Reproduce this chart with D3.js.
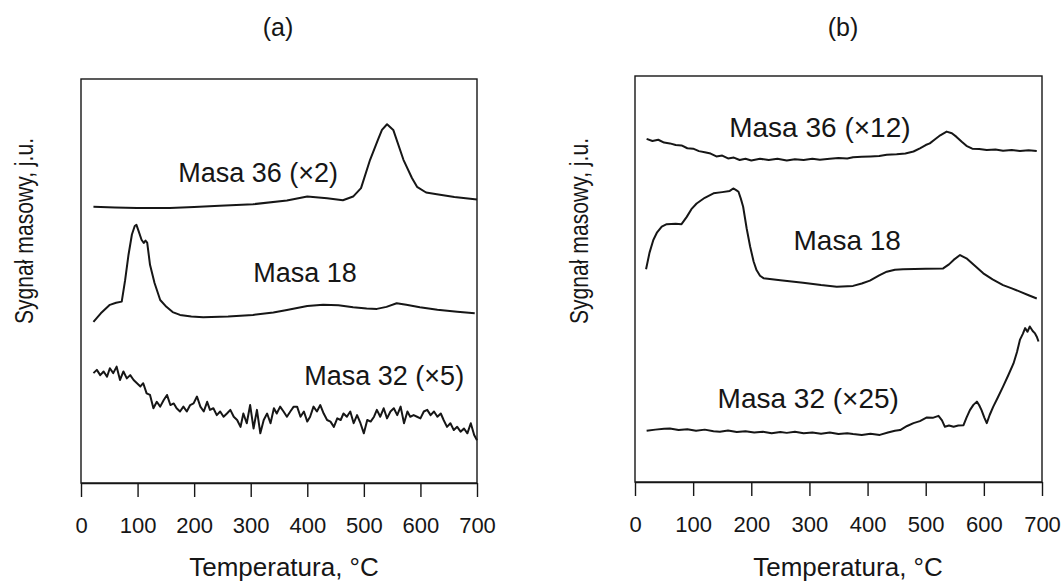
<!DOCTYPE html>
<html><head><meta charset="utf-8">
<script src="https://cdn.jsdelivr.net/npm/d3@7"></script>
<style>
html,body{margin:0;padding:0;background:#fff;}
svg{display:block;font-family:"Liberation Sans",Arial,sans-serif;}
</style></head>
<body>
<svg id="chart" width="1064" height="585"></svg>
<script>
// ---------- data (temperature °C, signal a.u. 0..100 of panel height) ----------
const xTicks = [0,100,200,300,400,500,600,700];
const panelTitles = ["(a)","(b)"];
const xTitle = "Temperatura, °C";
const yTitle = "Sygnał masowy, j.u.";

// panel (a) Masa 36 (x2)
const a36 = [[22,68.4],[60,68.2],[99,68.1],[157,68.1],[200,68.3],[245,68.6],[304,69.0],[364,69.9],[400,70.9],[435,70.5],[463,70.0],[481,70.9],[495,73.0],[511,80.0],[525,85.0],[532,87.4],[541,88.8],[552,87.4],[570,80.0],[585,75.5],[594,73.3],[610,71.9],[629,71.5],[660,70.8],[700,70.2]];
// panel (a) Masa 18
const a18 = [[22,39.9],[35,42.0],[51,44.1],[62,44.6],[72,44.9],[78,50.2],[84,56.5],[90,61.5],[95,63.6],[98,63.9],[102,62.3],[107,60.2],[111,59.4],[114,60.0],[117,59.5],[122,54.0],[130,49.5],[140,45.3],[151,43.6],[162,42.3],[175,41.6],[195,41.2],[216,41.0],[260,41.2],[304,41.6],[340,42.2],[364,42.8],[400,43.8],[428,44.1],[455,44.0],[481,43.5],[505,43.2],[523,43.1],[540,43.6],[558,44.5],[575,44.1],[599,43.5],[630,42.9],[665,42.4],[696,42.0]];
// panel (a) Masa 32 (x5)
const a32T = [22,28,34,40,46,51,57,63,69,75,81,87,93,99,105,110,116,122,128,134,140,146,152,158,164,169,175,181,187,193,199,205,211,217,223,228,234,240,246,252,258,264,270,276,282,287,293,299,305,311,317,323,329,335,341,346,352,358,364,370,376,382,388,394,400,405,411,417,423,429,435,441,447,453,459,464,470,476,482,488,494,500,506,512,518,523,529,535,541,547,553,559,565,571,577,582,588,594,600,606,612,618,624,630,636,641,647,653,659,665,671,677,683,689,695,700];
const a32V = [27.2,28.0,26.7,27.6,26.3,28.4,27.2,28.8,25.5,27.6,25.9,26.7,25.5,24.7,23.9,24.7,22.2,21.8,18.5,20.1,18.9,20.5,21.8,19.3,19.7,18.5,17.7,18.9,17.7,19.3,19.7,21.4,18.9,17.7,20.1,18.1,18.5,16.8,17.7,16.4,17.2,18.1,16.4,15.6,13.9,17.2,14.8,19.3,13.5,18.1,12.3,15.6,17.2,14.8,18.5,17.2,18.9,17.7,16.4,17.7,18.9,18.9,16.4,17.7,15.2,16.4,18.9,17.7,19.3,17.2,15.6,15.2,13.9,16.0,15.6,17.2,16.4,17.7,14.8,16.8,14.8,12.3,15.6,15.2,16.4,18.1,16.4,18.5,16.0,17.7,18.5,16.8,18.9,14.8,17.7,16.4,16.8,16.4,16.0,17.7,18.1,16.8,17.7,16.4,17.2,15.6,13.9,14.8,13.1,13.9,12.7,13.5,12.3,14.8,11.9,10.6];

// panel (b) Masa 36 (x12)
const b36 = [[20,84.5],[30,84.0],[40,84.3],[50,83.6],[60,83.4],[70,83.0],[80,82.9],[90,82.2],[100,82.1],[110,81.5],[120,81.2],[130,80.9],[140,80.2],[150,80.4],[160,79.7],[170,79.9],[180,79.3],[190,79.6],[200,79.2],[215,79.6],[230,79.3],[245,79.6],[261,79.2],[275,79.5],[290,79.3],[305,79.6],[318,79.4],[335,79.6],[350,79.8],[365,79.7],[375,80.0],[390,80.1],[405,80.2],[420,80.3],[433,80.6],[450,80.7],[465,80.9],[479,81.4],[490,82.2],[500,83.0],[507,83.4],[515,84.3],[525,85.4],[536,86.3],[545,85.9],[553,85.0],[562,83.8],[570,82.8],[580,82.1],[592,82.0],[605,81.8],[620,81.9],[633,81.6],[648,81.8],[662,81.5],[677,81.7],[691,81.5]];
// panel (b) Masa 18
const b18 = [[19,52.4],[25,56.5],[31.5,59.6],[38,61.5],[46,62.9],[54.5,63.5],[70,63.6],[80,63.5],[89,65.3],[97,67.2],[106,68.6],[120,70.0],[135,71.1],[150,71.4],[163,71.7],[169,72.3],[174,71.9],[178,71.5],[182,69.8],[186,67.8],[192,62.5],[198,58.0],[204,54.3],[209,52.2],[215,50.8],[221,50.2],[250,49.7],[289,49.1],[320,48.5],[347,48.1],[375,48.3],[390,48.9],[404,49.6],[420,50.9],[433,51.8],[447,52.3],[461,52.4],[500,52.5],[530,52.6],[540,53.6],[548,54.7],[559,55.9],[570,55.1],[585,53.2],[599,51.4],[615,49.9],[633,48.5],[648,47.7],[662,46.9],[677,46.0],[691,45.2]];
// panel (b) Masa 32 (x25)
const b32 = [[20,12.6],[35,12.9],[50,13.1],[60,13.2],[75,12.8],[90,13.0],[105,12.6],[120,12.9],[135,12.5],[146,12.4],[160,12.7],[175,12.3],[190,12.5],[205,12.2],[220,12.4],[235,12.0],[250,12.3],[261,12.1],[275,12.4],[290,12.0],[305,12.2],[320,11.9],[335,12.2],[350,11.8],[365,12.0],[375,11.8],[390,11.6],[405,11.9],[421,11.6],[435,12.2],[447,12.6],[456,12.8],[468,13.8],[479,14.5],[490,15.0],[502,15.9],[512,15.8],[522,16.3],[528,15.2],[533,13.6],[540,13.9],[548,13.6],[556,13.9],[565,14.0],[570,15.8],[576,17.7],[582,19.0],[588,19.8],[592,18.9],[596,17.7],[601,15.8],[605,14.5],[610,16.5],[616,18.5],[624,20.8],[633,23.5],[642,26.3],[651,29.2],[657,32.0],[662,35.0],[667,36.5],[671,37.9],[675,37.0],[679,38.3],[684,37.2],[688,36.6],[691,35.8],[694,34.6]];

// label anchors (data coords)
const labelsA = [["Masa 36 (×2)",313,74.5],["Masa 18",396,49.8],["Masa 32 (×5)",536,24.3]];
const labelsB = [["Masa 36 (×12)",318,85.0],["Masa 18",365,57.1],["Masa 32 (×25)",298,18.2]];

// ---------- drawing ----------
const svg = d3.select("#chart");
const ink = "#161616";

const panels = [
  {box:{l:81,r:477,t:79,b:483}, series:[a36,a18,a32T.map((t,i)=>[t,a32V[i]])], labels:labelsA, title:panelTitles[0], titleX:278, xTitleX:284, yTitleX:33, lblSize:27},
  {box:{l:635,r:1042,t:76,b:482}, series:[b36,b18,b32], labels:labelsB, title:panelTitles[1], titleX:843, xTitleX:848, yTitleX:588, lblSize:28}
];

panels.forEach(p=>{
  const x = d3.scaleLinear().domain([0,700]).range([p.box.l,p.box.r]);
  const y = d3.scaleLinear().domain([0,100]).range([p.box.b,p.box.t]);
  const g = svg.append("g");

  // frame
  g.append("rect").attr("x",p.box.l).attr("y",p.box.t)
    .attr("width",p.box.r-p.box.l).attr("height",p.box.b-p.box.t)
    .attr("fill","none").attr("stroke",ink).attr("stroke-width",1.4);

  // x axis
  const ax = g.append("g").attr("transform",`translate(0,${p.box.b})`)
    .call(d3.axisBottom(x).tickValues(xTicks).tickSize(14).tickSizeOuter(0).tickPadding(20));
  ax.select(".domain").attr("stroke",ink).attr("stroke-width",1.4);
  ax.selectAll(".tick line").attr("stroke",ink).attr("stroke-width",1.4);
  ax.selectAll(".tick text").attr("fill",ink).attr("font-size",22)
    .attr("font-family","'Liberation Sans',Arial,sans-serif");

  // curves
  const line = d3.line().x(d=>x(d[0])).y(d=>y(d[1]));
  p.series.forEach(s=>{
    g.append("path").datum(s).attr("d",line)
      .attr("fill","none").attr("stroke",ink).attr("stroke-width",2)
      .attr("stroke-linejoin","round");
  });

  // curve labels
  p.labels.forEach(l=>{
    g.append("text").attr("x",x(l[1])).attr("y",y(l[2]))
      .attr("text-anchor","middle").attr("font-size",p.lblSize).attr("fill",ink).text(l[0]);
  });

  // panel title
  g.append("text").attr("x",p.titleX).attr("y",36).attr("text-anchor","middle")
    .attr("font-size",25).attr("fill",ink).text(p.title);

  // x title
  g.append("text").attr("x",p.xTitleX).attr("y",576).attr("text-anchor","middle")
    .attr("font-size",26).attr("fill",ink).text(xTitle);

  // y title
  g.append("text").attr("transform",`translate(${p.yTitleX},231) rotate(-90)`)
    .attr("text-anchor","middle").attr("font-size",25).attr("fill",ink)
    .attr("textLength",186).attr("lengthAdjust","spacingAndGlyphs").text(yTitle);
});
</script>
</body></html>
